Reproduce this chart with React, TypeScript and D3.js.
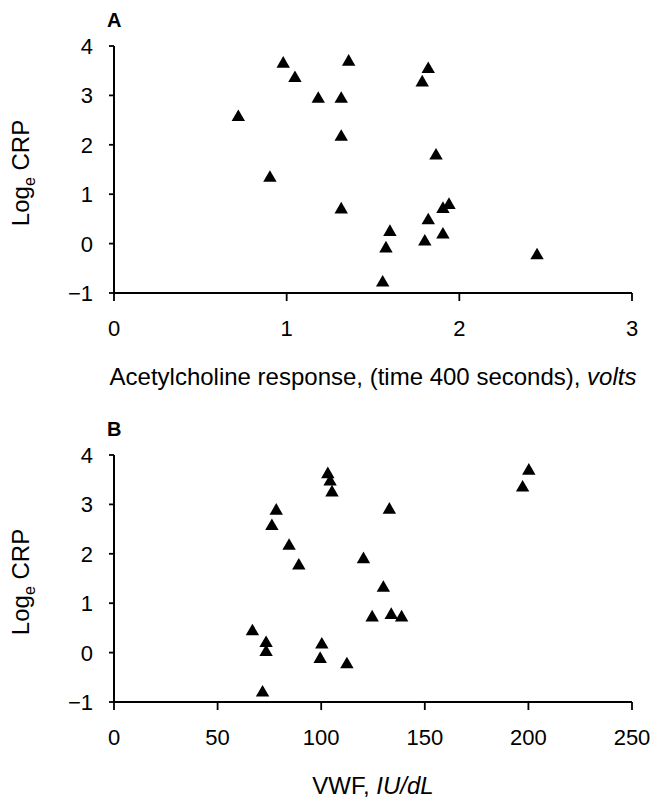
import React from "react";
import * as d3 from "d3";

// Panel A: Acetylcholine response (volts) vs Loge CRP
const achX = [0.72, 0.98, 1.048, 1.183, 1.316, 1.359, 1.316, 0.903, 1.316, 1.785, 1.82, 1.865, 1.598, 1.575, 1.556, 1.82, 1.80, 1.905, 1.94, 1.905, 2.45];
const achY = [2.60, 3.68, 3.39, 2.97, 2.97, 3.72, 2.20, 1.37, 0.73, 3.30, 3.57, 1.82, 0.275, -0.06, -0.75, 0.51, 0.08, 0.74, 0.82, 0.22, -0.20];

// Panel B: VWF (IU/dL) vs Loge CRP
const vwfX = [66.8, 73.4, 73.4, 71.7, 76.2, 78.3, 84.5, 89.2, 100.3, 99.5, 103.2, 104.3, 105.2, 112.4, 120.4, 124.6, 130, 132.9, 133.8, 138.8, 197.2, 200.2];
const vwfY = [0.47, 0.23, 0.05, -0.77, 2.60, 2.91, 2.20, 1.80, 0.20, -0.09, 3.65, 3.50, 3.28, -0.20, 1.93, 0.75, 1.35, 2.93, 0.80, 0.75, 3.38, 3.72];

const yTicks = [-1, 0, 1, 2, 3, 4];
const xTicksA = [0, 1, 2, 3];
const xTicksB = [0, 50, 100, 150, 200, 250];

const FONT = "'Liberation Sans', Arial, Helvetica, sans-serif";
const fmt = (v: number) => (v < 0 ? "\u2212" + Math.abs(v) : String(v));

type PanelProps = {
  top: number;
  letter: string;
  xs: number[];
  ys: number[];
  xDomain: [number, number];
  xTicks: number[];
  title: React.ReactNode;
};

function Panel({ top, letter, xs, ys, xDomain, xTicks, title }: PanelProps) {
  const left = 114;
  const right = 632;
  const yTop = top;
  const yBot = top + 247;
  const x = d3.scaleLinear().domain(xDomain).range([left, right]);
  const y = d3.scaleLinear().domain([-1, 4]).range([yBot, yTop]);
  const tri = d3.symbol().type(d3.symbolTriangle).size(78)() as string;
  return (
    <g>
      <text x={107} y={top - 19} fontFamily={FONT} fontWeight="bold" fontSize={20}>
        {letter}
      </text>
      {/* y axis */}
      <line x1={left} x2={left} y1={yTop} y2={yBot} stroke="#000" strokeWidth={2} />
      {yTicks.map((t) => (
        <g key={"y" + t}>
          <line x1={left - 5} x2={left} y1={y(t)} y2={y(t)} stroke="#000" strokeWidth={1.8} />
          <text x={93} y={y(t)} dy="0.36em" textAnchor="end" fontFamily={FONT} fontSize={22}>
            {fmt(t)}
          </text>
        </g>
      ))}
      {/* x axis */}
      <line x1={left} x2={right} y1={yBot} y2={yBot} stroke="#000" strokeWidth={2} />
      {xTicks.map((t) => (
        <g key={"x" + t}>
          <line x1={x(t)} x2={x(t)} y1={yBot} y2={yBot + 8} stroke="#000" strokeWidth={1.8} />
          <text x={x(t)} y={yBot + 43} textAnchor="middle" fontFamily={FONT} fontSize={22}>
            {t}
          </text>
        </g>
      ))}
      {/* y label */}
      <text
        transform={`translate(29,${top + 127}) rotate(-90)`}
        textAnchor="middle"
        fontFamily={FONT}
        fontSize={24}
      >
        Log<tspan fontSize={16} dy={6}>e</tspan>
        <tspan dy={-6}> CRP</tspan>
      </text>
      {/* x title */}
      <text x={(left + right) / 2} y={yBot + 92} textAnchor="middle" fontFamily={FONT} fontSize={24}>
        {title}
      </text>
      {xs.map((v, i) => (
        <path key={i} d={tri} transform={`translate(${x(v)},${y(ys[i]) + 2})`} fill="#000" />
      ))}
    </g>
  );
}

export default function App() {
  return (
    <svg
      width={655}
      height={800}
      style={{ position: "absolute", left: 0, top: 0, background: "#fff" }}
    >
      <rect width={655} height={800} fill="#fff" />
      <Panel
        top={46}
        letter="A"
        xs={achX}
        ys={achY}
        xDomain={[0, 3]}
        xTicks={xTicksA}
        title={
          <>
            Acetylcholine response, (time 400 seconds), <tspan fontStyle="italic">volts</tspan>
          </>
        }
      />
      <Panel
        top={455}
        letter="B"
        xs={vwfX}
        ys={vwfY}
        xDomain={[0, 250]}
        xTicks={xTicksB}
        title={
          <>
            VWF, <tspan fontStyle="italic">IU/dL</tspan>
          </>
        }
      />
    </svg>
  );
}
